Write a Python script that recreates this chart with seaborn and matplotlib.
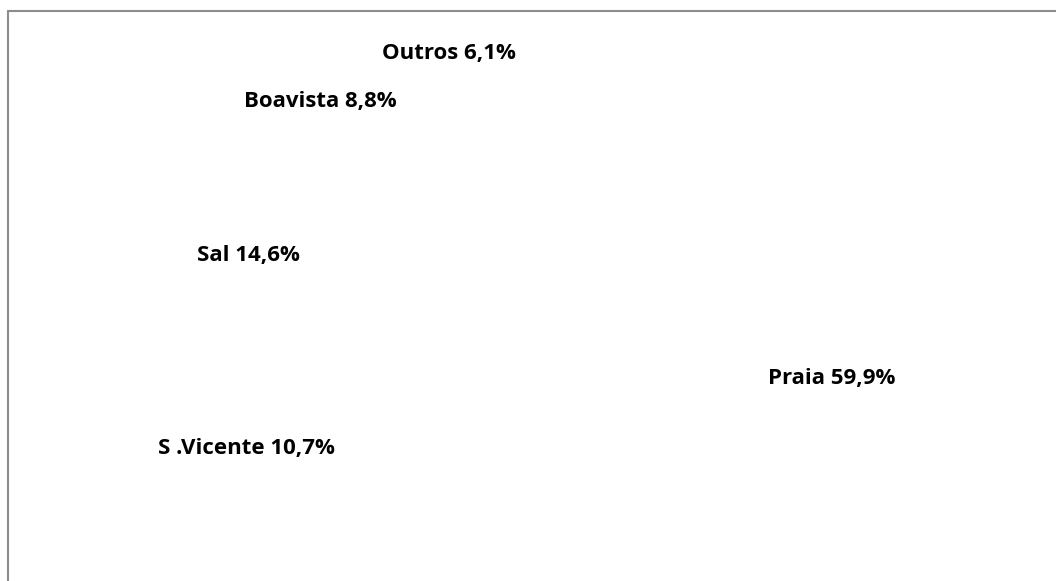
import matplotlib
matplotlib.use("Agg")
import matplotlib.pyplot as plt
import seaborn as sns
import numpy as np
from matplotlib.lines import Line2D

# share by island (%)
islands = ["Praia", "S .Vicente", "Sal", "Boavista", "Outros"]
shares = [59.9, 10.7, 14.6, 8.8, 6.1]

# small label nudges (deg clockwise, radius factor) like the original layout
nudge_deg = [0, 0, 1.5, 3, 6]
nudge_r = [1.0, 1.025, 1.0, 1.02, 1.04]

sns.set_theme(style="white")
plt.rcParams["font.family"] = ["Open Sans", "DejaVu Sans"]

labels = [n + " " + f"{v:.1f}".replace(".", ",") + "%" for n, v in zip(islands, shares)]

fig = plt.figure(figsize=(10.56, 5.81), dpi=100)
ax = fig.add_axes([0, 0, 1, 1])
wedges, texts = ax.pie(shares, labels=labels, startangle=90, counterclock=False,
                       radius=1, labeldistance=1.0,
                       wedgeprops=dict(facecolor="white", edgecolor="white", linewidth=0),
                       textprops=dict(fontsize=16, fontweight="bold", color="black"))
for w, t, d, r in zip(wedges, texts, nudge_deg, nudge_r):
    ang = np.deg2rad((w.theta1 + w.theta2) / 2 - d)
    x, y = r * np.cos(ang), r * np.sin(ang)
    t.set_position((x, y))
    t.set_ha("left" if x > 0 else "right")

ax.set_xlim(-2.2166, 2.140)
ax.set_ylim(-1.139, 1.258)
ax.set_aspect("auto")
ax.axis("off")

# chart frame (left and top visible)
fig.add_artist(Line2D([8 / 1056, 8 / 1056], [0, 1 - 11 / 581], color="#8c8c8c", lw=1.5))
fig.add_artist(Line2D([8 / 1056, 1], [1 - 11 / 581, 1 - 11 / 581], color="#8c8c8c", lw=1.5))

fig.savefig("out.png", dpi=100)
